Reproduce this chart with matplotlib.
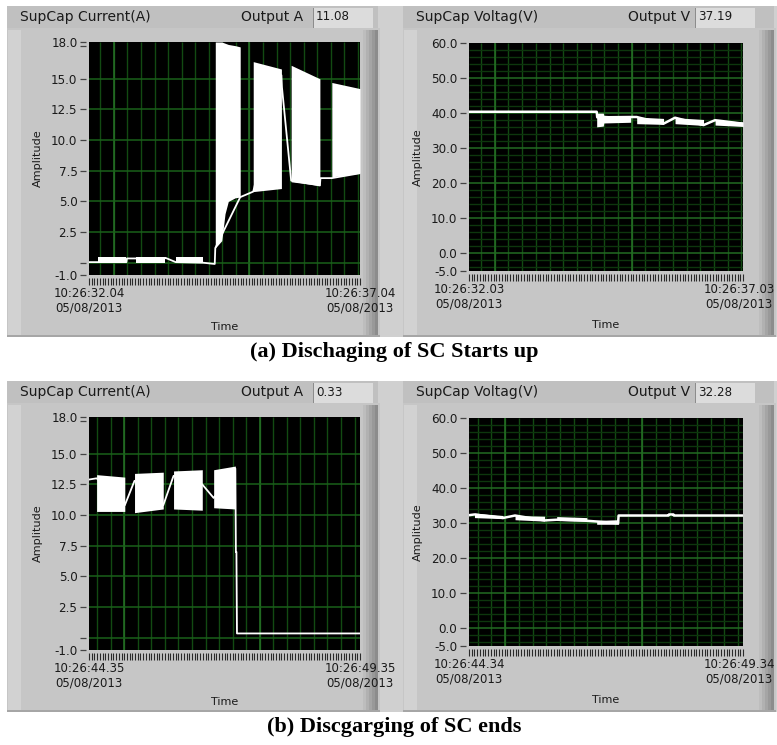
import numpy as np
import matplotlib.pyplot as plt
from matplotlib.patches import Rectangle
from matplotlib.ticker import MultipleLocator
from matplotlib.transforms import ScaledTranslation

W, H = 777, 745

# ---- (a) start of discharge: current ----
cur_a_t = [0, 0.17, 0.69, 0.70, 0.87, 1.40, 1.41, 1.60, 2.11, 2.32, 2.33, 2.79, 3.03,
           3.55, 3.56, 3.73, 4.26, 4.27, 4.48, 5.0]
cur_a_v = [0.05, 0.05, 0.05, 0.35, 0.35, 0.35, 0.4, 0.05, 0.0, -0.1, 1.2, 5.35, 5.8,
           15.3, 14.3, 6.7, 6.3, 6.9, 6.9, 7.3]
cur_a_band_t = [[0.17, 0.69], [0.87, 1.40], [1.60, 2.11],
                [2.33, 2.45, 2.51, 2.57, 2.70, 2.79], [3.03, 3.55], [3.73, 4.26], [4.48, 5.0]]
cur_a_band_lo = [[0.0, 0.0], [0.0, 0.0], [0.0, 0.0],
                 [1.2, 1.8, 4.0, 5.0, 5.3, 5.35], [5.8, 6.05], [6.6, 6.3], [7.0, 7.3]]
cur_a_band_hi = [[0.5, 0.5], [0.5, 0.5], [0.5, 0.5],
                 [18.0, 18.0, 17.9, 17.8, 17.7, 17.6], [16.4, 15.8], [16.1, 15.0], [14.7, 14.2]]

# ---- (a) voltage ----
vol_a_t = [0, 2.33, 2.34, 2.95, 3.06, 3.55, 3.76, 4.28, 4.49, 5.0]
vol_a_v = [40.4, 40.4, 38.8, 38.9, 38.9, 37.0, 38.7, 36.6, 38.0, 37.0]
vol_a_band_t = [[2.33, 2.45, 2.46, 2.95], [3.06, 3.55], [3.76, 4.28], [4.49, 5.0]]
vol_a_band_lo = [[36.1, 36.3, 37.2, 37.4], [37.0, 36.8], [37.0, 36.5], [36.6, 36.2]]
vol_a_band_hi = [[40.0, 40.0, 39.4, 39.0], [38.9, 38.5], [38.7, 38.2], [38.0, 37.5]]

# ---- (b) end of discharge: current ----
cur_b_t = [0, 0.14, 0.66, 0.84, 1.37, 1.56, 2.09, 2.30, 2.70, 2.71, 2.72, 2.73, 5.0]
cur_b_v = [12.9, 13.0, 10.8, 12.8, 10.8, 13.2, 12.5, 11.4, 13.8, 7.0, 7.0, 0.35, 0.35]
cur_b_band_t = [[0.14, 0.66], [0.84, 1.37], [1.56, 2.09], [2.30, 2.70]]
cur_b_band_lo = [[10.3, 10.3], [10.2, 10.5], [10.5, 10.4], [10.6, 10.5]]
cur_b_band_hi = [[13.3, 13.1], [13.4, 13.5], [13.6, 13.7], [13.7, 14.0]]

# ---- (b) voltage ----
vol_b_t = [0, 0.10, 0.62, 0.84, 1.38, 1.60, 2.15, 2.33, 2.72, 2.73, 3.64, 3.65, 3.73, 3.74, 5.0]
vol_b_v = [32.3, 32.5, 31.5, 32.2, 30.8, 31.0, 30.7, 30.5, 30.0, 32.2, 32.2, 32.5, 32.5, 32.2, 32.2]
vol_b_band_t = [[0.10, 0.62], [0.84, 1.38], [1.60, 2.15], [2.33, 2.73]]
vol_b_band_lo = [[31.6, 31.3], [31.0, 30.6], [30.8, 30.6], [29.7, 29.7]]
vol_b_band_hi = [[32.9, 32.2], [32.2, 32.0], [31.9, 31.6], [30.8, 31.0]]

cur_ticks = [18, 17.7, 15, 12.5, 10, 7.5, 5, 2.5, 0, -1]
cur_labels = ['18.0', '', '15.0', '12.5', '10.0', '7.5', '5.0', '2.5', '', '-1.0']
vol_ticks = [60, 50, 40, 30, 20, 10, 0, -5]
vol_labels = ['60.0', '50.0', '40.0', '30.0', '20.0', '10.0', '0.0', '-5.0']

plt.rcParams['font.family'] = ['DejaVu Sans']


def box(fig, x0, y0, x1, y1, color, z=-2):
    fig.add_artist(Rectangle((x0 / W, 1 - y1 / H), (x1 - x0) / W, (y1 - y0) / H,
                             transform=fig.transFigure, facecolor=color,
                             edgecolor='none', zorder=z))


def ftext(fig, x, y, s, **kw):
    fig.text(x / W, 1 - y / H, s, **kw)


def frame(fig, x0, y0, title, out_label, out_right, box_x, value):
    box(fig, x0, y0 + 22, x0 + 373, y0 + 331, '#c6c6c6', -3)
    box(fig, x0 + 1, y0 + 24, x0 + 14, y0 + 329, '#d2d2d2')
    shades = ['#bdbdbd', '#b1b1b1', '#a5a5a5', '#999999', '#8c8c8c']
    for i, c in enumerate(shades):
        box(fig, x0 + 356 + i * 3, y0 + 24, x0 + 359 + i * 3, y0 + 331, c)
    box(fig, x0, y0 + 329, x0 + 373, y0 + 331, '#a6a6a6')
    box(fig, x0, y0, x0 + 371, y0 + 22, '#c0c0c0')
    box(fig, box_x, y0 + 2, box_x + 60, y0 + 22, '#dcdcdc')
    box(fig, box_x, y0 + 2, box_x + 1, y0 + 22, '#8c8c8c', -1)
    ftext(fig, x0 + 13, y0 + 11, title, ha='left', va='center', size=10, color='#1a1a1a')
    ftext(fig, out_right, y0 + 11, out_label, ha='right', va='center', size=10, color='#1a1a1a')
    ftext(fig, box_x + 3, y0 + 11, value, ha='left', va='center', size=8.6, color='#1a1a1a')


def scope(fig, px, ylim, yticks, ylabels, hmajor, hminor, grid0, tlabels, hcolor, shift=0):
    x0, y0, x1, y1 = px
    ax = fig.add_axes([x0 / W, 1 - y1 / H, (x1 - x0) / W, (y1 - y0) / H])
    ax.set_facecolor('black')
    ax.set_xlim(0, 5)
    ax.set_ylim(*ylim)
    for s in ax.spines.values():
        s.set_visible(False)
    ax.spines['left'].set_position(('outward', 2))
    ax.spines['bottom'].set_position(('outward', 2))

    vminor = np.arange(grid0 % 0.25, 5, 0.25)
    vmajor = np.arange(grid0, 5, 2.5)
    ax.vlines(vminor, *ylim, color='#124a12', lw=1.0, zorder=0.5)
    ax.vlines(vmajor, *ylim, color='#267326', lw=1.1, zorder=0.6)
    if len(hminor):
        ax.hlines(hminor, 0, 5, color='#0d360d', lw=1.0, zorder=0.5)
    ax.hlines(hmajor, 0, 5, color=hcolor, lw=1.1, zorder=0.6)

    ax.set_yticks(yticks)
    ax.set_yticklabels(ylabels)
    ax.tick_params(axis='y', direction='out', length=4.3, width=0.9, color='#444444',
                   pad=2, labelsize=8.6, labelcolor='#1a1a1a')
    ax.set_xticks([0, 5])
    ax.set_xticklabels(tlabels)
    ax.xaxis.set_minor_locator(MultipleLocator(0.05))
    ax.tick_params(axis='x', which='both', direction='out', length=5, width=0.8,
                   color='#2a2a2a', pad=1.5, labelsize=8.5, labelcolor='#1a1a1a')
    if shift:
        lab = ax.get_xticklabels()[-1]
        lab.set_transform(lab.get_transform() + ScaledTranslation(shift / 100, 0, fig.dpi_scale_trans))
    ax.set_ylabel('Amplitude', fontsize=8.1, labelpad=2, color='#1a1a1a')
    ax.yaxis.set_label_coords(-46 / (x1 - x0), 0.5)
    return ax


def draw(ax, t, v, bt, blo, bhi, lw):
    ax.plot(t, v, color='white', lw=lw, zorder=3)
    for tt, lo, hi in zip(bt, blo, bhi):
        ax.fill_between(tt, lo, hi, color='white', lw=0, zorder=3)


fig = plt.figure(figsize=(W / 100, H / 100), dpi=100)
fig.patch.set_facecolor('white')

rows = [
    (0, 'Output A', '11.08', 'Output V', '37.19', 0.46, 0.47,
     ['10:26:32.04\n05/08/2013', '10:26:37.04\n05/08/2013'],
     ['10:26:32.03\n05/08/2013', '10:26:37.03\n05/08/2013'],
     (cur_a_t, cur_a_v, cur_a_band_t, cur_a_band_lo, cur_a_band_hi),
     (vol_a_t, vol_a_v, vol_a_band_t, vol_a_band_lo, vol_a_band_hi),
     '(a) Dischaging of SC Starts up'),
    (375, 'Output A', '0.33', 'Output V', '32.28', 0.65, 0.66,
     ['10:26:44.35\n05/08/2013', '10:26:49.35\n05/08/2013'],
     ['10:26:44.34\n05/08/2013', '10:26:49.34\n05/08/2013'],
     (cur_b_t, cur_b_v, cur_b_band_t, cur_b_band_lo, cur_b_band_hi),
     (vol_b_t, vol_b_v, vol_b_band_t, vol_b_band_lo, vol_b_band_hi),
     '(b) Discgarging of SC ends'),
]

for dy, la, lv, ra, rv, g_cur, g_vol, tl_cur, tl_vol, cur, vol, caption in rows:
    box(fig, 7, 6 + dy, 777, 337 + dy, '#d0d0d0', -4)
    frame(fig, 7, 6 + dy, 'SupCap Current(A)', la, 303, 313, lv)
    frame(fig, 403, 6 + dy, 'SupCap Voltag(V)', ra, 690, 695, rv)

    ax1 = scope(fig, (89, 42 + dy, 360, 275 + dy), (-1, 18), cur_ticks, cur_labels,
                [0, 2.5, 5, 7.5, 10, 12.5, 15], [], g_cur, tl_cur, '#1a601a')
    draw(ax1, *cur, lw=1.3)
    ax2 = scope(fig, (469, 43 + dy, 743, 271 + dy), (-5, 60), vol_ticks, vol_labels,
                [0, 10, 20, 30, 40, 50], [v for v in range(-4, 60, 2) if v % 10],
                g_vol, tl_vol, '#226a22', shift=-4)
    draw(ax2, *vol, lw=1.8)

    ftext(fig, 225, 327 + dy, 'Time', ha='center', va='center', size=8, color='#1a1a1a')
    ftext(fig, 606, 325 + dy, 'Time', ha='center', va='center', size=8, color='#1a1a1a')
    ftext(fig, 394, 352 + dy, caption, ha='center', va='center', size=16,
          family='Liberation Serif', weight='bold', color='black')

fig.savefig('out.png', dpi=100)
